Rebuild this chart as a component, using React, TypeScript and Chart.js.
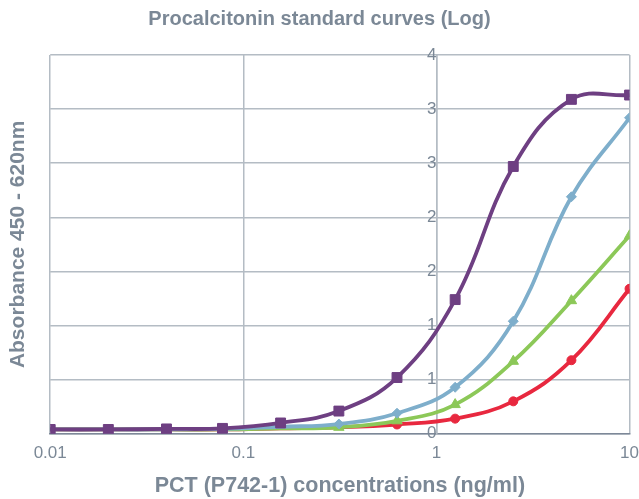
import React, { useEffect, useRef } from "react";
import { Chart, registerables } from "chart.js";

Chart.register(...registerables);

const concentrations = [0.01, 0.02, 0.04, 0.078, 0.156, 0.3125, 0.625, 1.25, 2.5, 5, 10];
const curvePurple = [0.04, 0.04, 0.045, 0.05, 0.1, 0.21, 0.52, 1.24, 2.47, 3.09, 3.13];
const curveBlue = [0.04, 0.04, 0.04, 0.045, 0.065, 0.09, 0.19, 0.43, 1.04, 2.19, 2.92];
const curveGreen = [0.04, 0.04, 0.04, 0.04, 0.05, 0.06, 0.12, 0.27, 0.67, 1.23, 1.83];
const curveRed = [0.04, 0.04, 0.04, 0.04, 0.05, 0.06, 0.086, 0.14, 0.3, 0.68, 1.34];
const xTickValues = [0.01, 0.1, 1, 10];

const TEXT = "#7b8896";
const GRID = "#b4bcc4";
const AXIS = "#7d8898";
const FONT = "'Liberation Sans', Arial, sans-serif";

export default function App() {
  const ref = useRef<HTMLCanvasElement | null>(null);

  useEffect(() => {
    if (!ref.current) return;
    const mk = (label: string, vals: number[], color: string, style: any, radius: number, hideFrom: number) => ({
      label,
      data: concentrations.map((x, i) => ({ x, y: vals[i] })),
      borderColor: color,
      backgroundColor: color,
      borderWidth: 3.8,
      tension: 0.4,
      pointStyle: style,
      pointRadius: concentrations.map((_, i) => (i < hideFrom ? 0 : radius)),
      pointBorderWidth: 1,
      pointBorderColor: color,
      pointBackgroundColor: color,
    });
    const chart = new Chart(ref.current, {
      type: "line",
      data: {
        datasets: [
          mk("Purple", curvePurple, "#6e3f82", "rect", 7, 0),
          mk("Blue", curveBlue, "#7eaecb", "rectRot", 5, 5),
          mk("Green", curveGreen, "#8cc858", "triangle", 6, 5),
          mk("Red", curveRed, "#e8283f", "circle", 4.5, 6),
        ],
      },
      options: {
        animation: false,
        responsive: true,
        maintainAspectRatio: false,
        layout: { padding: { left: 0, right: 0, top: 0, bottom: 0 } },
        plugins: {
          legend: { display: false },
          tooltip: { enabled: false },
          title: {
            display: true,
            text: "Procalcitonin standard curves (Log)",
            color: TEXT,
            font: { family: FONT, size: 20, weight: "bold" },
            padding: { top: 7, bottom: 24 },
          },
        },
        scales: {
          x: {
            type: "logarithmic",
            min: 0.01,
            max: 10,
            afterBuildTicks: (scale: any) => {
              scale.ticks = xTickValues.map((v) => ({ value: v }));
            },
            ticks: {
              color: TEXT,
              font: { family: FONT, size: 17 },
              padding: 0,
              maxRotation: 0,
              callback: (v: any) => String(v),
            },
            grid: { color: GRID, lineWidth: 1.5, drawTicks: true, tickLength: 9, tickColor: "rgba(0,0,0,0)" },
            border: { color: AXIS, width: 1.5 },
            title: {
              display: true,
              text: "PCT (P742-1) concentrations (ng/ml)",
              color: TEXT,
              font: { family: FONT, size: 21.5, weight: "bold" },
              padding: { top: 10, bottom: 0 },
            },
          },
          y: {
            type: "linear",
            min: 0,
            max: 3.5,
            position: { x: 1 } as any,
            ticks: {
              stepSize: 0.5,
              color: TEXT,
              font: { family: FONT, size: 17 },
              padding: 4,
              callback: (v: any) => String(Math.round(Number(v))),
            },
            grid: { color: GRID, lineWidth: 1.5, drawTicks: false },
            border: { color: GRID, width: 1.5 },
          },
          yTitle: {
            type: "linear",
            position: "left",
            min: 0,
            max: 3.5,
            ticks: { display: false },
            grid: { display: false, drawTicks: false },
            border: { display: false },
            title: {
              display: true,
              text: "Absorbance 450 - 620nm",
              color: TEXT,
              font: { family: FONT, size: 21, weight: "bold" },
              padding: { top: 6, bottom: 19 },
            },
          },
        },
      } as any,
    });
    return () => chart.destroy();
  }, []);

  return (
    <div style={{ position: "fixed", left: 0, top: 0, width: 639, height: 499, background: "#fff" }}>
      <canvas ref={ref} />
    </div>
  );
}
